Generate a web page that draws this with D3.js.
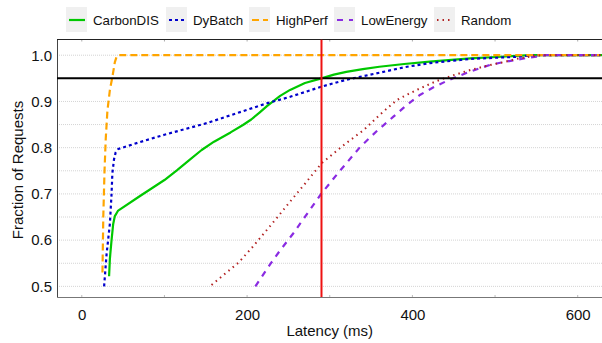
<!DOCTYPE html>
<html>
<head>
<meta charset="utf-8">
<script src="https://cdn.jsdelivr.net/npm/d3@7"></script>
<style>
  body { margin: 0; background: #fff; }
  svg { display: block; font-family: "Liberation Sans", Arial, sans-serif; }
</style>
</head>
<body>
<svg id="chart" width="602" height="343"></svg>
<script>
// series: [latency ms, fraction of requests]
const carbonDIS = [[33,0.522],[34,0.56],[36,0.60],[38,0.635],[40,0.652],[44,0.664],[70,0.695],[100,0.73],[115,0.751],[130,0.773],[145,0.795],[160,0.813],[180,0.833],[195,0.849],[205,0.861],[215,0.876],[224,0.89],[240,0.912],[252,0.925],[270,0.94],[290,0.95],[305,0.958],[320,0.964],[340,0.97],[360,0.975],[390,0.981],[421,0.986],[470,0.993],[520,0.998],[542,1.0],[630,1.0]];
const dyBatch = [[27,0.50],[30,0.57],[34,0.636],[36,0.70],[37,0.745],[39,0.775],[41,0.79],[44,0.797],[70,0.812],[100,0.828],[151,0.853],[190,0.876],[224,0.896],[252,0.91],[290,0.932],[320,0.947],[360,0.962],[390,0.974],[421,0.983],[470,0.992],[530,0.997],[545,1.0],[630,1.0]];
const highPerf = [[25,0.53],[26,0.65],[27.5,0.75],[29,0.82],[31,0.88],[34,0.925],[37,0.953],[40,0.985],[42,0.996],[44,1.0],[630,1.0]];
const lowEnergy = [[210,0.5],[228,0.548],[240,0.578],[256,0.615],[273,0.658],[290,0.701],[310,0.745],[337,0.802],[357,0.836],[377,0.867],[393,0.892],[409,0.914],[425,0.93],[440,0.943],[453,0.953],[466,0.962],[480,0.971],[494,0.979],[510,0.985],[526,0.99],[538,0.994],[550,0.997],[560,1.0],[630,1.0]];
const random = [[157,0.503],[175,0.53],[190,0.552],[206,0.584],[222,0.618],[236,0.648],[250,0.679],[270,0.722],[290,0.766],[320,0.81],[341,0.838],[361,0.872],[381,0.903],[395,0.916],[409,0.928],[429,0.944],[450,0.957],[470,0.968],[490,0.977],[510,0.985],[526,0.992],[542,0.997],[555,1.0],[630,1.0]];

const seriesNames = ["CarbonDIS", "DyBatch", "HighPerf", "LowEnergy", "Random"];
const seriesData = [carbonDIS, dyBatch, highPerf, lowEnergy, random];
const seriesColors = ["#00c800", "#0000cc", "#ffa500", "#8a2be2", "#b22222"];
const seriesDash = [null, "3,3", "7,4", "6,6", "1.5,4"];

const xTicks = [0, 200, 400, 600];
const xMinorTicks = [0, 100, 200, 300, 400, 500, 600];
const yTicks = [0.5, 0.6, 0.7, 0.8, 0.9, 1.0];
const yGrid = [0.5, 0.55, 0.6, 0.65, 0.7, 0.75, 0.8, 0.85, 0.9, 0.95, 1.0];
const sloLatency = 290;
const sloFraction = 0.95;

const plotLeft = 57, plotRight = 602.5, plotTop = 39.5, plotBottom = 297;

const svg = d3.select("#chart");

const x = d3.scaleLinear().domain([-30, 630]).range([plotLeft, plotRight]);
const y = d3.scaleLinear().domain([1.034, 0.477]).range([plotTop, plotBottom]);

svg.append("defs").append("clipPath").attr("id", "clip")
  .append("rect")
  .attr("x", plotLeft).attr("y", plotTop)
  .attr("width", plotRight - plotLeft).attr("height", plotBottom - plotTop);

// horizontal grid
svg.append("g")
  .selectAll("line")
  .data(yGrid)
  .join("line")
  .attr("x1", plotLeft).attr("x2", plotRight)
  .attr("y1", d => y(d)).attr("y2", d => y(d))
  .attr("stroke", "#d4d4d4")
  .attr("stroke-width", 1)
  .attr("stroke-dasharray", "1,1");

// axes
const xAxis = svg.append("g")
  .attr("transform", `translate(0,${plotBottom})`)
  .call(d3.axisBottom(x).tickValues(xTicks).tickSize(0).tickPadding(12));
xAxis.select(".domain").attr("stroke", "#777").attr("stroke-width", 1);
xAxis.selectAll("text").attr("font-size", 15).attr("fill", "#111")
  .attr("font-family", "Liberation Sans, Arial, sans-serif");

svg.append("g")
  .selectAll("line")
  .data(xMinorTicks)
  .join("line")
  .attr("x1", d => x(d)).attr("x2", d => x(d))
  .attr("y1", plotBottom - 2).attr("y2", plotBottom)
  .attr("stroke", "#bbb");

svg.append("g")
  .selectAll("line")
  .data(xMinorTicks)
  .join("line")
  .attr("x1", d => x(d)).attr("x2", d => x(d))
  .attr("y1", plotTop).attr("y2", plotTop + 2)
  .attr("stroke", "#aaa");

const yAxis = svg.append("g")
  .attr("transform", `translate(${plotLeft},0)`)
  .call(d3.axisLeft(y).tickValues(yTicks).tickFormat(d3.format(".1f")).tickSize(0).tickPadding(5));
yAxis.select(".domain").attr("stroke", "#444").attr("stroke-width", 1);
yAxis.selectAll("text").attr("font-size", 15).attr("fill", "#111")
  .attr("font-family", "Liberation Sans, Arial, sans-serif");

svg.append("line")
  .attr("x1", plotLeft).attr("x2", plotRight)
  .attr("y1", plotTop).attr("y2", plotTop)
  .attr("stroke", "#222").attr("stroke-width", 1.2);

// curves
const line = d3.line()
  .x(d => x(d[0]))
  .y(d => y(d[1]));

const plot = svg.append("g").attr("clip-path", "url(#clip)");

plot.selectAll("path.series")
  .data(seriesData)
  .join("path")
  .attr("class", "series")
  .attr("d", line)
  .attr("fill", "none")
  .attr("stroke", (d, i) => seriesColors[i])
  .attr("stroke-width", (d, i) => i === 4 ? 2 : 2.2)
  .attr("stroke-linejoin", "round")
  .attr("stroke-dasharray", (d, i) => seriesDash[i]);

// reference lines
plot.append("line")
  .attr("x1", plotLeft).attr("x2", plotRight)
  .attr("y1", y(sloFraction)).attr("y2", y(sloFraction))
  .attr("stroke", "#000").attr("stroke-width", 2);

plot.append("line")
  .attr("x1", x(sloLatency)).attr("x2", x(sloLatency))
  .attr("y1", plotTop).attr("y2", plotBottom)
  .attr("stroke", "#ee1111").attr("stroke-width", 2);

// axis titles
svg.append("text")
  .attr("x", x(300)).attr("y", 336)
  .attr("text-anchor", "middle")
  .attr("font-size", 15).attr("fill", "#111")
  .text("Latency (ms)");

svg.append("text")
  .attr("transform", "translate(23,170) rotate(-90)")
  .attr("text-anchor", "middle")
  .attr("font-size", 15).attr("fill", "#111")
  .text("Fraction of Requests");

// legend
const legendX = [66, 166, 249, 334, 434];
const legend = svg.append("g");
const item = legend.selectAll("g")
  .data(seriesNames)
  .join("g")
  .attr("transform", (d, i) => `translate(${legendX[i]},7)`);

item.append("rect")
  .attr("width", 21).attr("height", 25)
  .attr("fill", "#f0f0f0");

item.append("line")
  .attr("x1", 3).attr("x2", 19)
  .attr("y1", 13).attr("y2", 13)
  .attr("stroke", (d, i) => seriesColors[i])
  .attr("stroke-width", 2.2)
  .attr("stroke-dasharray", (d, i) => seriesDash[i]);

item.append("text")
  .attr("x", 27).attr("y", 18)
  .attr("font-size", 13.3).attr("fill", "#111")
  .text(d => d);
</script>
</body>
</html>
